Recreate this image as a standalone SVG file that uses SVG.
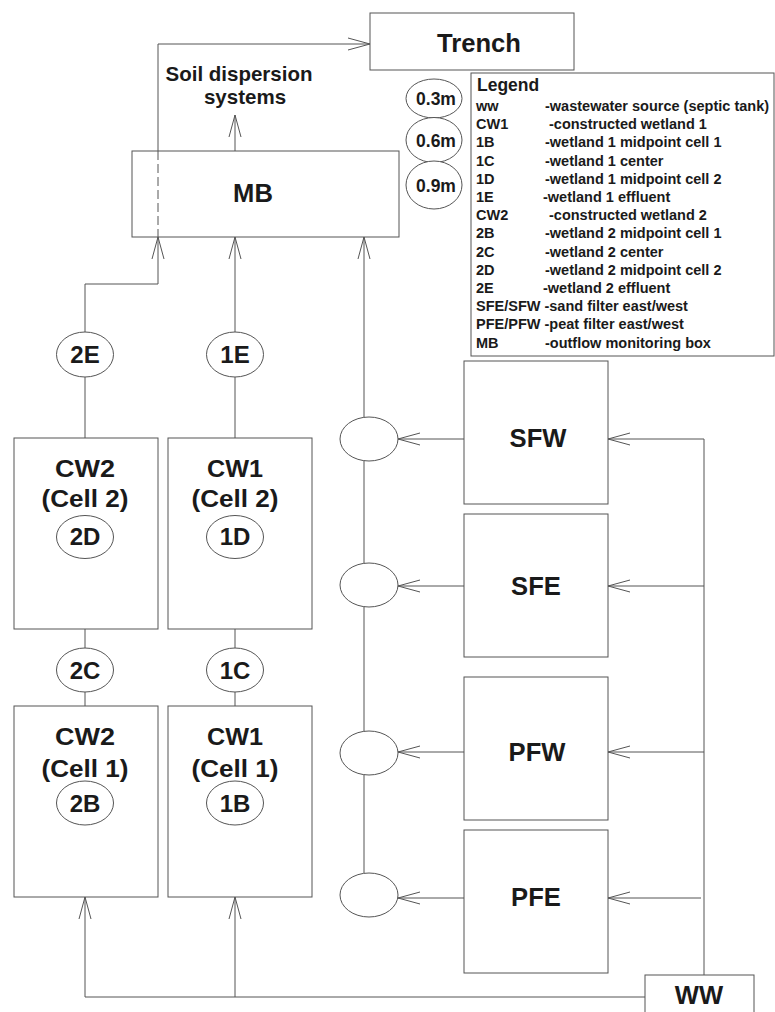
<svg xmlns="http://www.w3.org/2000/svg" width="775" height="1012" viewBox="0 0 775 1012">
<style>
.box{fill:#fff;stroke:#555;stroke-width:1}
.ell{fill:#fff;stroke:#555;stroke-width:1}
.ln{fill:none;stroke:#555;stroke-width:1}
.t{font-family:"Liberation Sans",Arial,sans-serif;font-weight:bold;fill:#1a1a1a;text-anchor:middle}
.big{font-size:25.6px}
.mid{font-size:23px}
.lab{font-size:24px}
.dep{font-size:17.5px}
.soil{font-size:20.5px}
.lg{font-family:"Liberation Sans",Arial,sans-serif;font-weight:bold;fill:#1a1a1a;font-size:14.5px}
.lgh{font-family:"Liberation Sans",Arial,sans-serif;font-weight:bold;fill:#1a1a1a;font-size:17.5px}
</style>
<defs>
<marker id="arr" markerUnits="userSpaceOnUse" markerWidth="30" markerHeight="16" viewBox="-24 -8 26 16" refX="0" refY="0" orient="auto" overflow="visible">
<path d="M-22,-6 L0,0 L-22,6" fill="none" stroke="#555" stroke-width="1"/>
</marker>
</defs>
<rect width="775" height="1012" fill="#fff"/>
<g id="connectors">
<path class="ln" d="M158,151 V44 H370" marker-end="url(#arr)"/>
<path class="ln" d="M158,151 V237" stroke-dasharray="9 4"/>
<path class="ln" d="M235,151 V115" marker-end="url(#arr)"/>
<path class="ln" d="M85,332 V284 H158 V237" marker-end="url(#arr)"/>
<path class="ln" d="M235,332 V237" marker-end="url(#arr)"/>
<path class="ln" d="M364,873 V237" marker-end="url(#arr)"/>
<path class="ln" d="M85,377 V438"/>
<path class="ln" d="M235,377 V438"/>
<path class="ln" d="M85,629 V706"/>
<path class="ln" d="M235,629 V706"/>
<path class="ln" d="M645,997 H85 V897" marker-end="url(#arr)"/>
<path class="ln" d="M235,997 V897" marker-end="url(#arr)"/>
<path class="ln" d="M704,975 V439"/>
<path class="ln" d="M704,439 H608" marker-end="url(#arr)"/>
<path class="ln" d="M704,586 H608" marker-end="url(#arr)"/>
<path class="ln" d="M704,752 H608" marker-end="url(#arr)"/>
<path class="ln" d="M701,898 H608" marker-end="url(#arr)"/>
<path class="ln" d="M464,439 H398" marker-end="url(#arr)"/>
<path class="ln" d="M464,586 H398" marker-end="url(#arr)"/>
<path class="ln" d="M464,752 H398" marker-end="url(#arr)"/>
<path class="ln" d="M464,898 H398" marker-end="url(#arr)"/>
</g>
<g id="trench">
<rect class="box" x="370" y="13" width="204" height="57"/>
<text class="t big" x="479" y="52">Trench</text>
</g>
<g id="soil">
<text class="t soil" x="239" y="81">Soil dispersion</text>
<text class="t soil" x="245" y="104">systems</text>
</g>
<g id="mb">
<rect x="132" y="151" width="267" height="86" fill="none" stroke="#555" stroke-width="1"/>
<text class="t big" x="253" y="202">MB</text>
</g>
<g id="depths">
<ellipse class="ell" cx="434" cy="98.5" rx="28" ry="19.5"/>
<text class="t dep" x="436" y="104.5">0.3m</text>
<ellipse class="ell" cx="434" cy="140" rx="28" ry="22.5"/>
<text class="t dep" x="436" y="146.5">0.6m</text>
<ellipse class="ell" cx="434" cy="185" rx="28" ry="24"/>
<text class="t dep" x="436" y="191.5">0.9m</text>
</g>
<g id="legend">
<rect class="box" x="471" y="73" width="303" height="283"/>
<text class="lgh" x="477" y="91">Legend</text>
<text class="lg" x="476" y="111">ww</text><text class="lg" x="545" y="111">-wastewater source (septic tank)</text>
<text class="lg" x="476" y="129.2">CW1</text><text class="lg" x="549" y="129.2">-constructed wetland 1</text>
<text class="lg" x="476" y="147.4">1B</text><text class="lg" x="545" y="147.4">-wetland 1 midpoint cell 1</text>
<text class="lg" x="476" y="165.6">1C</text><text class="lg" x="545" y="165.6">-wetland 1 center</text>
<text class="lg" x="476" y="183.8">1D</text><text class="lg" x="545" y="183.8">-wetland 1 midpoint cell 2</text>
<text class="lg" x="476" y="202">1E</text><text class="lg" x="543" y="202">-wetland 1 effluent</text>
<text class="lg" x="476" y="220.2">CW2</text><text class="lg" x="549" y="220.2">-constructed wetland 2</text>
<text class="lg" x="476" y="238.4">2B</text><text class="lg" x="545" y="238.4">-wetland 2 midpoint cell 1</text>
<text class="lg" x="476" y="256.6">2C</text><text class="lg" x="545" y="256.6">-wetland 2 center</text>
<text class="lg" x="476" y="274.8">2D</text><text class="lg" x="545" y="274.8">-wetland 2 midpoint cell 2</text>
<text class="lg" x="476" y="293">2E</text><text class="lg" x="543" y="293">-wetland 2 effluent</text>
<text class="lg" x="476" y="311.2">SFE/SFW -sand filter east/west</text>
<text class="lg" x="476" y="329.4">PFE/PFW -peat filter east/west</text>
<text class="lg" x="476" y="347.6">MB</text><text class="lg" x="545" y="347.6">-outflow monitoring box</text>
</g>
<g id="n2E">
<ellipse class="ell" cx="85" cy="354.5" rx="28.5" ry="22.5"/>
<text class="t lab" x="85" y="363">2E</text>
</g>
<g id="n1E">
<ellipse class="ell" cx="235" cy="354.5" rx="28.5" ry="22.5"/>
<text class="t lab" x="235" y="363">1E</text>
</g>
<g id="cw2c2">
<rect class="box" x="14" y="438" width="144" height="191"/>
<text class="t mid" x="85" y="477" textLength="60" lengthAdjust="spacingAndGlyphs">CW2</text>
<text class="t mid" x="85" y="507" textLength="87" lengthAdjust="spacingAndGlyphs">(Cell 2)</text>
<ellipse class="ell" cx="85" cy="537" rx="28.5" ry="21.5"/>
<text class="t lab" x="85" y="545">2D</text>
</g>
<g id="cw1c2">
<rect class="box" x="168" y="438" width="144" height="191"/>
<text class="t mid" x="235" y="477" textLength="56" lengthAdjust="spacingAndGlyphs">CW1</text>
<text class="t mid" x="235" y="507" textLength="87" lengthAdjust="spacingAndGlyphs">(Cell 2)</text>
<ellipse class="ell" cx="235" cy="537" rx="28.5" ry="21.5"/>
<text class="t lab" x="235" y="545">1D</text>
</g>
<g id="n2C">
<ellipse class="ell" cx="85" cy="670" rx="28.5" ry="22"/>
<text class="t lab" x="85" y="679">2C</text>
</g>
<g id="n1C">
<ellipse class="ell" cx="235" cy="670" rx="28.5" ry="22"/>
<text class="t lab" x="235" y="679">1C</text>
</g>
<g id="cw2c1">
<rect class="box" x="14" y="706" width="144" height="191"/>
<text class="t mid" x="85" y="745" textLength="60" lengthAdjust="spacingAndGlyphs">CW2</text>
<text class="t mid" x="85" y="777" textLength="87" lengthAdjust="spacingAndGlyphs">(Cell 1)</text>
<ellipse class="ell" cx="85" cy="803" rx="28.5" ry="22"/>
<text class="t lab" x="85" y="812">2B</text>
</g>
<g id="cw1c1">
<rect class="box" x="168" y="706" width="144" height="191"/>
<text class="t mid" x="235" y="745" textLength="56" lengthAdjust="spacingAndGlyphs">CW1</text>
<text class="t mid" x="235" y="777" textLength="87" lengthAdjust="spacingAndGlyphs">(Cell 1)</text>
<ellipse class="ell" cx="235" cy="803" rx="28.5" ry="22"/>
<text class="t lab" x="235" y="812">1B</text>
</g>
<g id="s1"><ellipse class="ell" cx="369" cy="439" rx="29" ry="22"/></g>
<g id="s2"><ellipse class="ell" cx="369" cy="585" rx="29" ry="22"/></g>
<g id="s3"><ellipse class="ell" cx="369" cy="753" rx="29" ry="22"/></g>
<g id="s4"><ellipse class="ell" cx="369" cy="895" rx="29" ry="22"/></g>
<g id="sfw">
<rect class="box" x="464" y="361" width="144" height="143"/>
<text class="t big" x="538" y="447">SFW</text>
</g>
<g id="sfe">
<rect class="box" x="464" y="514" width="144" height="143"/>
<text class="t big" x="536" y="595">SFE</text>
</g>
<g id="pfw">
<rect class="box" x="464" y="677" width="144" height="143"/>
<text class="t big" x="537" y="761">PFW</text>
</g>
<g id="pfe">
<rect class="box" x="464" y="830" width="144" height="143"/>
<text class="t big" x="536" y="906">PFE</text>
</g>
<g id="ww">
<rect class="box" x="645" y="975" width="109" height="45"/>
<text class="t big" x="699" y="1004">WW</text>
</g>
</svg>
